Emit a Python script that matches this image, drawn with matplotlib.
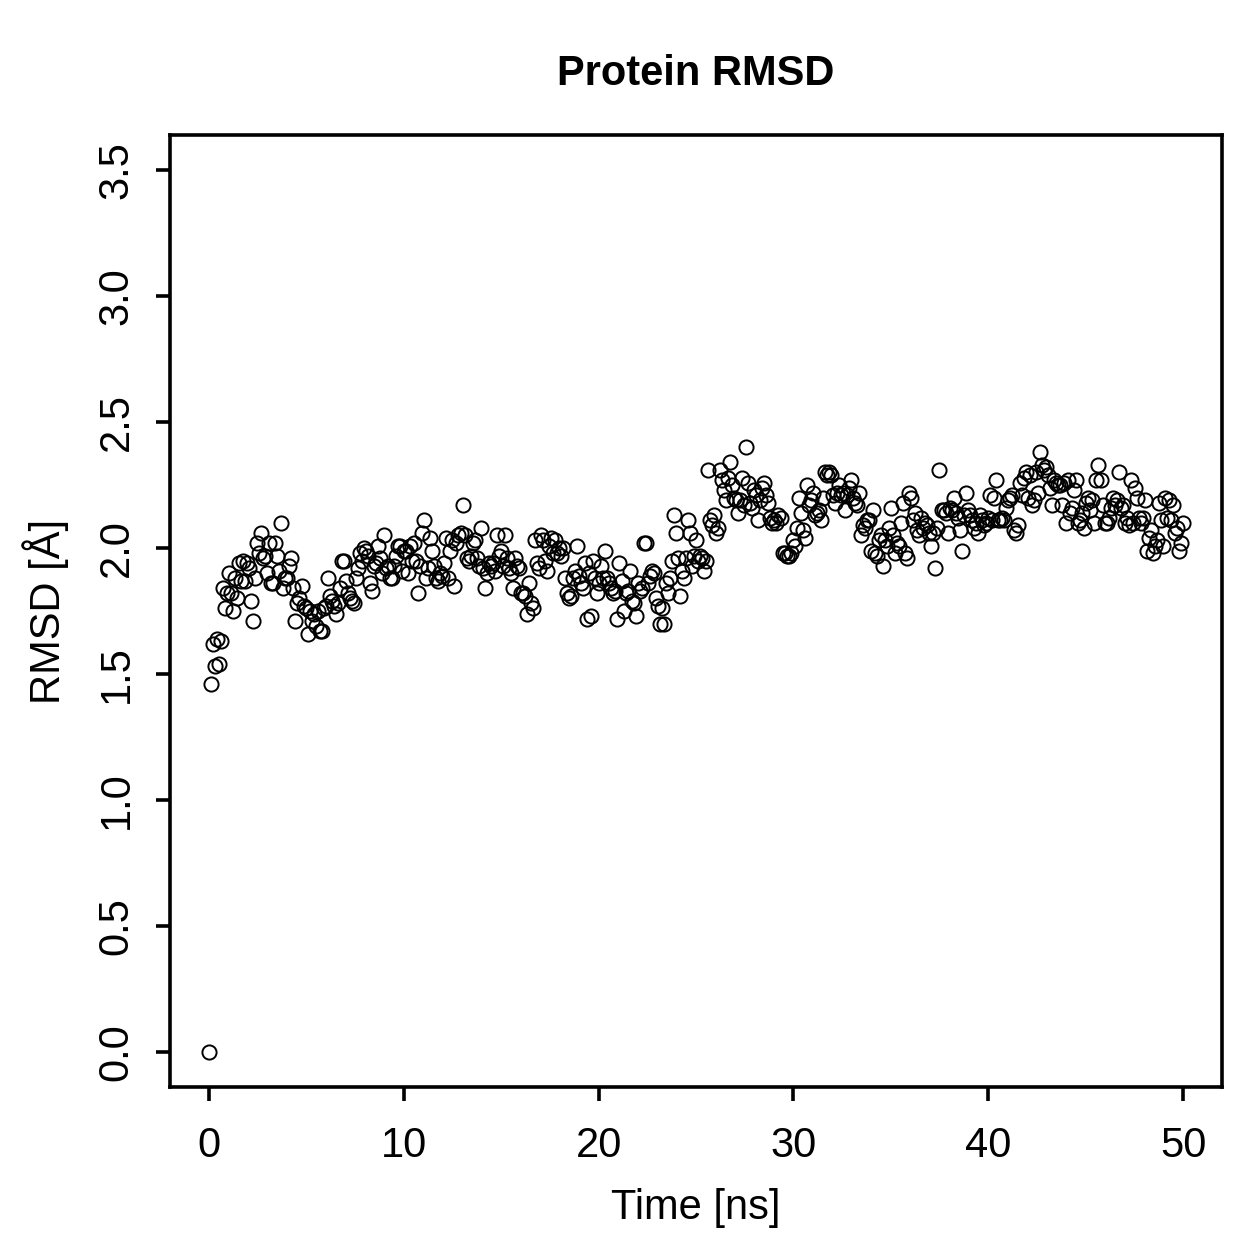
import matplotlib
matplotlib.use("Agg")
import matplotlib.pyplot as plt
import numpy as np

plt.rcParams['font.family'] = ['Liberation Sans', 'DejaVu Sans']

# RMSD values, in time order (0 - 50 ns)
rmsd = [
    0.00, 1.46, 1.62, 1.53, 1.64, 1.54, 1.63, 1.84, 1.76, 1.82,
    1.90, 1.82, 1.75, 1.88, 1.80, 1.94, 1.87, 1.95, 1.87, 1.94,
    1.92, 1.79, 1.71, 1.88, 2.02, 1.98, 2.06, 1.96, 1.97, 1.90,
    2.02, 1.86, 1.86, 2.02, 1.97, 1.91, 2.10, 1.84, 1.88, 1.88,
    1.93, 1.96, 1.84, 1.71, 1.78, 1.80, 1.85, 1.77, 1.76, 1.66,
    1.75, 1.71, 1.74, 1.69, 1.75, 1.67, 1.67, 1.76, 1.77, 1.88,
    1.81, 1.79, 1.77, 1.74, 1.78, 1.84, 1.95, 1.95, 1.87, 1.82,
    1.80, 1.79, 1.78, 1.88, 1.92, 1.98, 1.95, 2.00, 1.99, 1.97,
    1.86, 1.83, 1.93, 1.94, 2.01, 1.96, 1.90, 2.05, 1.92, 1.93,
    1.88, 1.88, 1.93, 1.97, 2.01, 2.01, 1.91, 1.99, 1.99, 1.90,
    2.01, 1.95, 2.02, 1.95, 1.82, 1.93, 2.06, 2.11, 1.88, 1.92,
    2.04, 1.99, 1.93, 1.88, 1.87, 1.90, 1.89, 1.94, 2.04, 1.88,
    1.99, 2.03, 1.85, 2.02, 2.05, 2.06, 2.17, 2.05, 1.96, 1.95,
    1.97, 2.02, 2.03, 1.96, 1.93, 2.08, 1.92, 1.84, 1.90, 1.94,
    1.93, 1.94, 1.91, 2.05, 1.97, 1.99, 1.93, 2.05, 1.96, 1.92,
    1.90, 1.84, 1.96, 1.93, 1.92, 1.82, 1.82, 1.81, 1.74, 1.86,
    1.78, 1.76, 2.03, 1.94, 1.92, 2.05, 2.03, 1.95, 1.91, 2.01,
    2.04, 1.98, 2.03, 1.98, 2.00, 1.97, 2.00, 1.88, 1.82, 1.80,
    1.81, 1.88, 1.91, 2.01, 1.89, 1.86, 1.84, 1.94, 1.72, 1.90,
    1.73, 1.95, 1.88, 1.82, 1.86, 1.93, 1.88, 1.99, 1.88, 1.86,
    1.84, 1.82, 1.83, 1.72, 1.94, 1.87, 1.75, 1.82, 1.83, 1.91,
    1.79, 1.78, 1.73, 1.86, 1.83, 1.84, 2.02, 2.02, 1.86, 1.89,
    1.91, 1.90, 1.80, 1.77, 1.70, 1.76, 1.70, 1.86, 1.82, 1.88,
    1.95, 2.13, 2.06, 1.96, 1.81, 1.91, 1.88, 1.96, 2.11, 2.06,
    1.93, 1.97, 2.03, 1.95, 1.97, 1.96, 1.91, 1.95, 2.31, 2.11,
    2.09, 2.13, 2.06, 2.08, 2.31, 2.27, 2.23, 2.19, 2.28, 2.34,
    2.25, 2.20, 2.19, 2.14, 2.19, 2.28, 2.17, 2.40, 2.26, 2.18,
    2.16, 2.23, 2.21, 2.11, 2.19, 2.24, 2.26, 2.21, 2.18, 2.12,
    2.10, 2.11, 2.10, 2.13, 2.12, 1.98, 1.98, 1.97, 1.97, 1.98,
    2.03, 2.01, 2.08, 2.20, 2.14, 2.07, 2.04, 2.25, 2.17, 2.19,
    2.22, 2.13, 2.14, 2.15, 2.11, 2.20, 2.30, 2.29, 2.30, 2.29,
    2.21, 2.18, 2.22, 2.25, 2.21, 2.22, 2.15, 2.21, 2.24, 2.27,
    2.20, 2.18, 2.17, 2.22, 2.05, 2.09, 2.08, 2.11, 2.11, 1.99,
    2.15, 1.98, 1.97, 2.03, 2.05, 1.93, 2.03, 2.01, 2.08, 2.16,
    2.05, 1.98, 2.02, 2.01, 2.10, 2.18, 1.98, 1.96, 2.22, 2.20,
    2.11, 2.14, 2.07, 2.05, 2.12, 2.08, 2.10, 2.09, 2.06, 2.01,
    2.06, 1.92, 2.08, 2.31, 2.15, 2.15, 2.14, 2.06, 2.16, 2.15,
    2.20, 2.14, 2.12, 2.07, 1.99, 2.13, 2.22, 2.15, 2.13, 2.11,
    2.08, 2.10, 2.06, 2.13, 2.11, 2.09, 2.10, 2.12, 2.21, 2.11,
    2.20, 2.27, 2.11, 2.11, 2.12, 2.11, 2.16, 2.19, 2.20, 2.21,
    2.07, 2.06, 2.09, 2.26, 2.21, 2.28, 2.30, 2.20, 2.29, 2.17,
    2.19, 2.30, 2.22, 2.38, 2.33, 2.31, 2.32, 2.29, 2.24, 2.17,
    2.27, 2.26, 2.25, 2.25, 2.17, 2.26, 2.10, 2.27, 2.14, 2.16,
    2.23, 2.27, 2.10, 2.11, 2.14, 2.08, 2.18, 2.20, 2.15, 2.19,
    2.10, 2.27, 2.33, 2.27, 2.17, 2.10, 2.10, 2.12, 2.16, 2.20,
    2.17, 2.19, 2.30, 2.16, 2.17, 2.10, 2.12, 2.09, 2.27, 2.10,
    2.24, 2.20, 2.12, 2.10, 2.12, 2.19, 1.99, 2.04, 2.07, 1.98,
    2.01, 2.03, 2.18, 2.11, 2.01, 2.20, 2.12, 2.19, 2.11, 2.17,
    2.06, 2.08, 1.99, 2.02, 2.10,
]
time_ns = np.linspace(0, 50, len(rmsd))

x_ticks = [0, 10, 20, 30, 40, 50]
y_ticks = [0.0, 0.5, 1.0, 1.5, 2.0, 2.5, 3.0, 3.5]

fig = plt.figure(figsize=(12.59, 12.59), dpi=100)
ax = fig.add_axes([0.135, 0.1366, 0.8356, 0.7562])

ax.plot(time_ns, rmsd, linestyle='none', marker='o', markersize=10.2,
        markerfacecolor='none', markeredgecolor='black', markeredgewidth=1.4)

ax.set_xlim(-2, 52)
ax.set_ylim(-0.14, 3.64)
ax.set_xticks(x_ticks)
ax.set_xticklabels([str(t) for t in x_ticks])
ax.set_yticks(y_ticks)
ax.set_yticklabels(['%.1f' % t for t in y_ticks])

for s in ax.spines.values():
    s.set_linewidth(2.6)
ax.tick_params(axis='both', direction='out', length=10, width=2.6, labelsize=30)
ax.tick_params(axis='x', pad=18)
ax.tick_params(axis='y', pad=14, labelrotation=90)
for lab in ax.get_yticklabels():
    lab.set_verticalalignment('center')

ax.set_xlabel('Time [ns]', fontsize=30, labelpad=16)
ax.set_ylabel('RMSD [Å]', fontsize=30, labelpad=20)
ax.set_title('Protein RMSD', fontsize=30, fontweight='bold', pad=36)

fig.savefig('out.png', dpi=100)
